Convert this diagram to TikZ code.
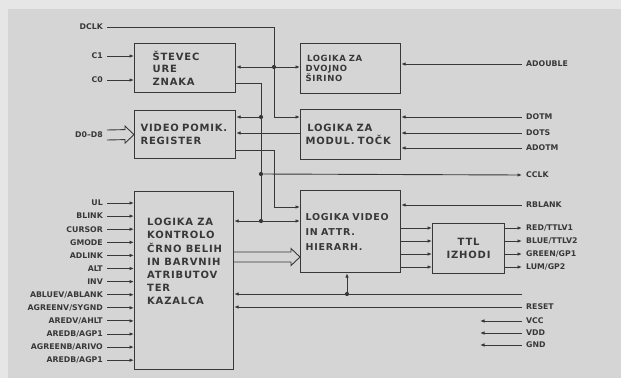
\documentclass[tikz,border=0pt]{standalone}
\usepackage{fontspec}
\setmainfont{DejaVu Sans}
\newfontfamily\blokfont[LetterSpace=8]{DejaVu Sans}
\usetikzlibrary{arrows.meta, positioning, calc}
\definecolor{ink}{HTML}{383838}
\definecolor{paper}{HTML}{D5D5D5}
\definecolor{rim}{HTML}{E6E6E6}

\begin{document}
\begin{tikzpicture}[x=1pt, y=-1pt, color=ink, font=\bfseries\fontsize{7.8}{9}\selectfont,
  >={Latex[length=4.5pt,width=3.6pt]},
  wire/.style={draw=ink, line width=0.9pt},
  blok/.style={draw=ink, line width=1.2pt, anchor=north west, align=left, inner ysep=0pt,
    font=\blokfont\bfseries\fontsize{10}{12.5}\selectfont},
  btext/.style={align=left, inner sep=0pt, font=\blokfont\bfseries\fontsize{10}{13.2}\selectfont},
  inlbl/.style={anchor=east, inner xsep=4pt, inner ysep=1pt},
  outlbl/.style={anchor=west, inner xsep=4pt, inner ysep=1pt},
  dot/.style={circle, fill=ink, inner sep=0pt, minimum size=4.2pt},
  bus/.style={to path={($(\tikztostart)+(0,-5)$) -- ($(\tikztotarget)+(-9,-5)$)
    -- ($(\tikztotarget)+(-9,-8.5)$) -- (\tikztotarget) -- ($(\tikztotarget)+(-9,8.5)$)
    -- ($(\tikztotarget)+(-9,5)$) -- ($(\tikztostart)+(0,5)$)}}]
  \fill[rim] (0,0) rectangle (621,378);
  \fill[paper] (8,9) rectangle (621,378);
  \useasboundingbox (0,0) rectangle (621,378);

  \node[blok, minimum width=101pt, minimum height=49pt, text width=65pt, inner xsep=18pt] (stevec) at (134,43) {ŠTEVEC\\URE\\ZNAKA};
  \node[blok, minimum width=101pt, minimum height=48pt, text width=89pt, inner xsep=6pt] (pomik) at (134,110) {VIDEO POMIK.\\REGISTER};
  \node[blok, minimum width=100pt, minimum height=50pt, text width=90pt, inner xsep=5pt,
    font=\blokfont\bfseries\fontsize{8.5}{10}\selectfont] (dvojno) at (300,43) {\,LOGIKA ZA\\DVOJNO\\ŠIRINO};
  \node[blok, minimum width=100pt, minimum height=50pt, text width=90pt, inner xsep=5pt] (modul) at (300,109) {\,LOGIKA ZA\\MODUL. TOČK};
  \node[blok, minimum width=99pt, minimum height=178pt] (kontrola) at (134,191) {};
  \node[btext, below right=27pt and 13pt of kontrola.north west] (kontrola-t)
    {LOGIKA ZA\\KONTROLO\\ČRNO BELIH\\IN BARVNIH\\ATRIBUTOV\\TER\\KAZALCA};
  \node[blok, minimum width=100pt, minimum height=82pt, text width=90pt, inner xsep=5pt,
    font=\blokfont\bfseries\fontsize{9.5}{15}\selectfont] (video) at (300,190) {LOGIKA VIDEO\\IN ATTR.\\HIERARH.};
  \node[blok, minimum width=72pt, minimum height=50pt, align=center] (ttl) at (432,223) {TTL\\IZHODI};

  \node[inlbl] (dclk) at (107,27) {DCLK};
  \node[inlbl] (c1) at (107,56) {C1};
  \node[inlbl] (c0) at (107,80) {C0};
  \node[inlbl] (d08) at (107,135) {D0–D8};
  \draw[wire,->] (c1.east) -- (stevec.west |- c1.east);
  \draw[wire,->] (c0.east) -- (stevec.west |- c0.east);
  \draw[wire] (d08.east) to[bus] (pomik.west);
  \foreach \t [count=\i from 0] in {UL,BLINK,CURSOR,GMODE,ADLINK,ALT,INV,ABLUEV/ABLANK,
      AGREENV/SYGND,AREDV/AHLT,AREDB/AGP1,AGREENB/ARIVO,AREDB/AGP1} {
    \node[inlbl] (in\i) at (107,{203+13.1*\i}) {\t};
    \draw[wire,->] (in\i.east) -- (kontrola.west |- in\i.east);
  }

  \node[dot] (j1) at (274,67) {};
  \node[dot] (j2) at (261,117) {};
  \node[dot] (j3) at (261,174) {};
  \node[dot] (j4) at (261,221) {};
  \node[dot] (j5) at (347,294) {};
  \draw[wire,->] (dclk.east) -| (274,117) -- (modul.west |- 0,117);
  \draw[wire,<->] (stevec.east |- j1) -- (dvojno.west |- j1);
  \draw[wire] (stevec.east |- 0,83) -| (j4);
  \draw[wire,->] (j2) -- (pomik.east |- j2);
  \draw[wire,->] (modul.west |- 0,133) -- (pomik.east |- 0,133);
  \draw[wire,->] (pomik.east |- 0,150) -| (274,207) -- (video.west |- 0,207);
  \draw[wire,<->] (kontrola.east |- j4) -- (video.west |- j4);
  \coordinate (busk) at (kontrola.east |- 0,257);
  \coordinate (busv) at (video.west |- busk);
  \draw[wire] (busk) to[bus] (busv);
  \foreach \y in {228,241,254,267}
    \draw[wire,->] (video.east |- 0,\y) -- (ttl.west |- 0,\y);

  \node[outlbl] (adouble) at (522,64) {ADOUBLE};
  \node[outlbl] (dotm) at (522,117) {DOTM};
  \node[outlbl] (dots) at (522,133) {DOTS};
  \node[outlbl] (adotm) at (522,148) {ADOTM};
  \node[outlbl] (cclk) at (522,175) {CCLK};
  \node[outlbl] (rblank) at (522,205) {RBLANK};
  \node[outlbl] (reset) at (522,307) {RESET};
  \coordinate (linija) at (522,294);
  \draw[wire,->] (adouble.west) -- (dvojno.east |- adouble.west);
  \foreach \n in {dotm,dots,adotm}
    \draw[wire,->] (\n.west) -- (modul.east |- \n.west);
  \draw[wire,->] (j3) -- (cclk.west);
  \draw[wire,->] (rblank.west) -- (video.east |- rblank.west);
  \foreach \t [count=\i from 0] in {RED/TTLV1,BLUE/TTLV2,GREEN/GP1,LUM/GP2} {
    \node[outlbl] (out\i) at (522,{228+13*\i}) {\t};
    \draw[wire,->] (ttl.east |- out\i.west) -- (out\i.west);
  }
  \draw[wire,->] (linija) -- (kontrola.east |- linija);
  \draw[wire,->] (j5) -- (j5 |- video.south);
  \draw[wire,->] (reset.west) -- (kontrola.east |- reset.west);
  \foreach \t [count=\i from 0] in {VCC,VDD,GND} {
    \node[outlbl] (pw\i) at (522,{321+12*\i}) {\t};
    \draw[wire,->] (pw\i.west) -- ++(-42,0);
  }
\end{tikzpicture}
\end{document}
